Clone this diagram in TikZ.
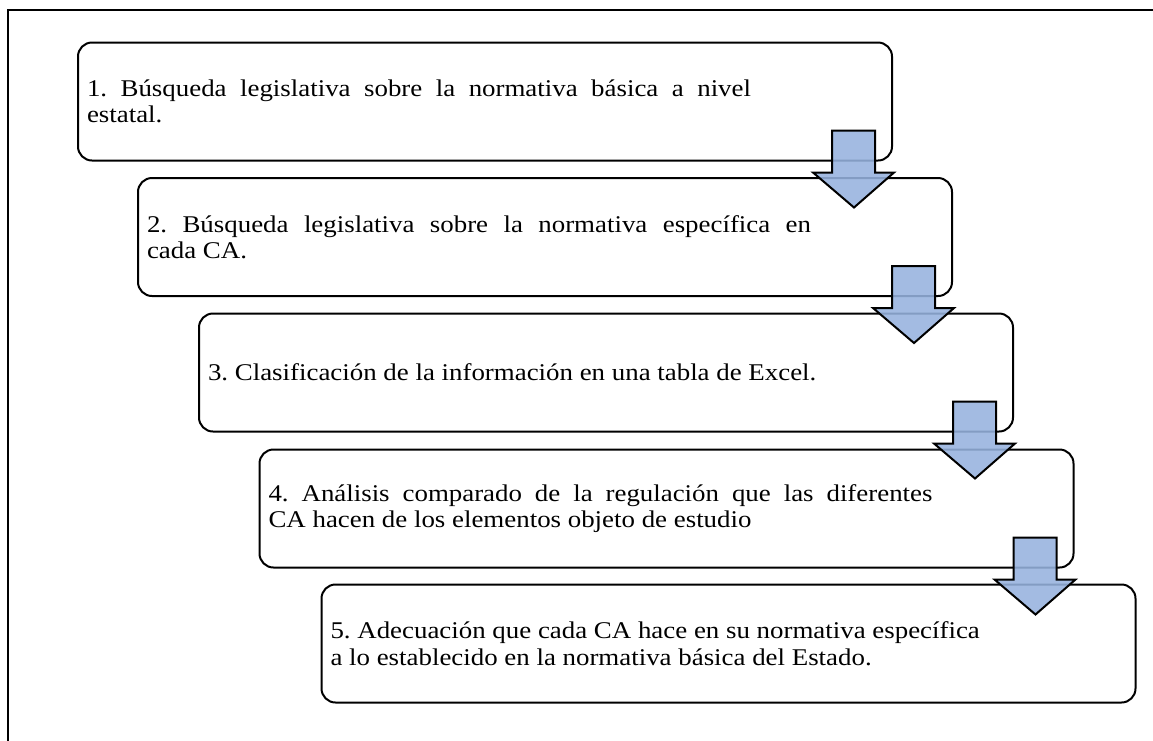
\documentclass[tikz,border=0pt]{standalone}
\usepackage{fontspec}
\setmainfont[FakeStretch=1.12]{Liberation Serif}
\usetikzlibrary{positioning}
\definecolor{arrowblue}{RGB}{150,178,222}
\tikzset{
  stepbox/.style={draw=black,line width=2pt,rounded corners=14pt,
    minimum width=814pt,minimum height=118pt,inner xsep=9pt,
    font=\fontsize{24}{26.5}\selectfont},
  flowarrow/.style={draw=black,line width=2pt,fill=arrowblue,fill opacity=0.88,
    line join=miter}
}
\newcommand{\steptext}[1]{\parbox[c]{796pt}{\parbox{664pt}{\frenchspacing#1}\hfill}}

\begin{document}
\begin{tikzpicture}[x=1pt,y=-1pt]
\useasboundingbox (0,0) rectangle (1153,740);
% outer frame (runs off the page on the right and bottom)
\begin{scope}
\clip (0,0) rectangle (1153,740);
\draw[line width=2.4pt] (8,10) rectangle (1170,760);
\end{scope}
%
\node (s1) [stepbox] at (485,101.5) {\steptext{1. Búsqueda legislativa sobre la normativa básica a nivel\linebreak estatal.}};
\node (s2) [stepbox] at (545,237) {\steptext{2. Búsqueda legislativa sobre la normativa específica en\linebreak cada CA.}};
\node (s3) [stepbox] at (606,372.5) {\steptext{3. Clasificación de la información en una tabla de Excel.}};
\node (s4) [stepbox] at (666.5,508.5) {\steptext{4. Análisis comparado de la regulación que las diferentes\linebreak CA hacen de los elementos objeto de estudio}};
\node (s5) [stepbox] at (728.5,643.5) {\steptext{5. Adecuación que cada CA hace en su normativa específica\newline a lo establecido en la normativa básica del Estado.}};
%
\foreach \i in {1,...,4}
  \draw[flowarrow] ([xshift=-61pt,yshift=31pt]s\i.south east) -- ++(43,0) -- ++(0,42)
    -- ++(19,0) -- ++(-40,35) -- ++(-41,-35) -- ++(19,0) -- cycle;
\end{tikzpicture}
\end{document}
